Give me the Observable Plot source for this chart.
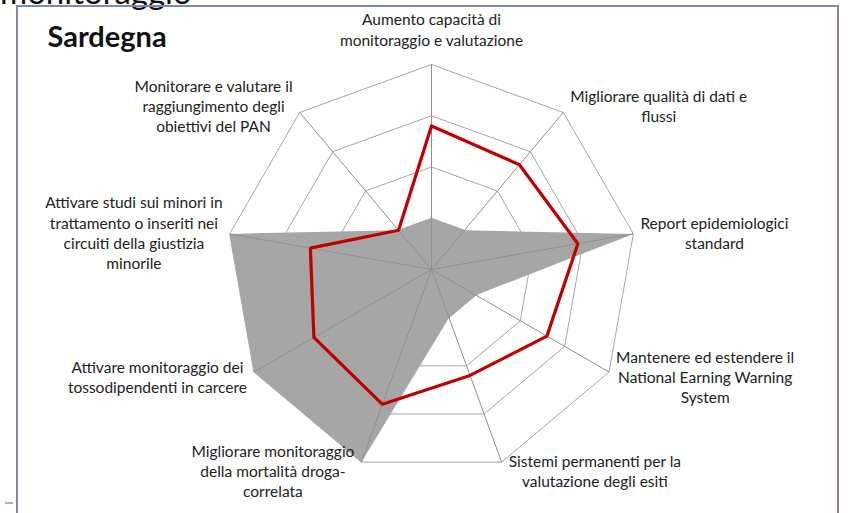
<!DOCTYPE html>
<html>
<head>
<meta charset="utf-8">
<script src="https://cdn.jsdelivr.net/npm/d3@7"></script>
<script src="https://cdn.jsdelivr.net/npm/@observablehq/plot@0.6"></script>
<style>
  html, body { margin: 0; padding: 0; background: #fff; }
  #wrap { position: relative; width: 848px; height: 513px; overflow: hidden; font-family: Lato, "Open Sans", sans-serif; }
  #frame { position: absolute; left: 16px; top: 5px; width: 823px; height: 540px; border: 2px solid #8088b0; border-bottom: none; box-sizing: border-box; }
  #cut { position: absolute; left: 0px; top: -29px; font-size: 33px; color: #111; white-space: nowrap; }
  #dash { position: absolute; left: 5px; top: 502px; width: 8px; height: 2px; background: #a3b6cf; }
  #chart { position: absolute; left: 0; top: 0; }
</style>
</head>
<body>
<div id="wrap">
  <div id="cut">monitoraggio</div>
  <div id="frame"></div>
  <div id="dash"></div>
  <div id="chart"></div>
</div>
<script>
// ---- data ----
const categories = [
  "Aumento capacità di\nmonitoraggio e valutazione",
  "Migliorare qualità di dati e\nflussi",
  "Report epidemiologici\nstandard",
  "Mantenere ed estendere il\nNational Earning Warning\nSystem",
  "Sistemi permanenti per la\nvalutazione degli esiti",
  "Migliorare monitoraggio\ndella mortalità droga-\ncorrelata",
  "Attivare monitoraggio dei\ntossodipendenti in carcere",
  "Attivare studi sui minori in\ntrattamento o inseriti nei\ncircuiti della giustizia\nminorile",
  "Monitorare e valutare il\nraggiungimento degli\nobiettivi del PAN"
];
const seriesGray = [1, 1, 4, 1, 1, 4, 4, 4, 1];
const seriesRed = [2.8, 2.67, 2.9, 2.6, 2.2, 2.8, 2.65, 2.4, 1.0];
const ringLevels = [1, 2, 3, 4];
const maxValue = 4;
const title = "Sardegna";

// ---- layout ----
const W = 848, H = 513;
const cx = 431, cy = 269, R = 205;
const k = R / maxValue; // px per unit
const n = categories.length;
const ang = i => (i * 2 * Math.PI) / n;
const pt = (v, i) => ({x: v * Math.sin(ang(i)), y: v * Math.cos(ang(i))});
const closed = arr => arr.concat([arr[0]]);

const font = "Lato, 'Open Sans', sans-serif";
const fs = 15.5, lh = 1.31, ink = "#222";

const ctx = document.createElement("canvas").getContext("2d");
ctx.font = `${fs}px Lato`;
const blockWidth = t => Math.max(...t.split("\n").map(l => ctx.measureText(l).width));

const rings = ringLevels.flatMap(l =>
  closed(categories.map((c, i) => ({...pt(l, i), level: l})))
);
const spokes = categories.map((c, i) => ({x1: 0, y1: 0, x2: pt(maxValue, i).x, y2: pt(maxValue, i).y}));
const grayPts = closed(seriesGray.map((v, i) => pt(v, i)));
const redPts = closed(seriesRed.map((v, i) => pt(v, i)));

const labels = categories.map((c, i) => {
  const s = Math.sin(ang(i)), co = Math.cos(ang(i));
  const p = pt(maxValue, i);
  const side = s > 0.1 ? 1 : s < -0.1 ? -1 : 0;
  const shift = side * (7 + blockWidth(c) / 2) / k;
  return {text: c, side, x: p.x + shift, y: p.y + 9 * co / k};
});
const sideLabels = labels.filter(d => d.side !== 0);
const topLabels = labels.filter(d => d.side === 0);

const chart = Plot.plot({
  width: W,
  height: H,
  margin: 0,
  style: {fontFamily: font, background: "transparent", overflow: "visible"},
  x: {type: "linear", domain: [-cx / k, (W - cx) / k], range: [0, W], axis: null},
  y: {type: "linear", domain: [-(H - cy) / k, cy / k], range: [H, 0], axis: null},
  marks: [
    Plot.line(rings, {x: "x", y: "y", z: "level", stroke: "#a6a6a6", strokeWidth: 1}),
    Plot.line(grayPts, {x: "x", y: "y", fill: "#a6a6a6", stroke: "none"}),
    Plot.link(spokes, {x1: "x1", y1: "y1", x2: "x2", y2: "y2", stroke: "#8f8f8f", strokeWidth: 1}),
    Plot.line(redPts, {x: "x", y: "y", stroke: "#c00000", strokeWidth: 3.2, strokeLinejoin: "miter"}),
    Plot.text(sideLabels, {x: "x", y: "y", text: "text", textAnchor: "middle", lineAnchor: "middle", fontSize: fs, lineHeight: lh, fill: ink}),
    Plot.text(topLabels, {x: "x", y: "y", text: "text", textAnchor: "middle", lineAnchor: "bottom", dy: -10, fontSize: fs, lineHeight: lh, fill: ink}),
    Plot.text([title], {frameAnchor: "top-left", text: d => d, dx: 47, dy: 26, fontSize: 29, fontWeight: "bold", fill: "#111", textAnchor: "start", lineAnchor: "top"})
  ]
});
document.getElementById("chart").appendChild(chart);
</script>
</body>
</html>
